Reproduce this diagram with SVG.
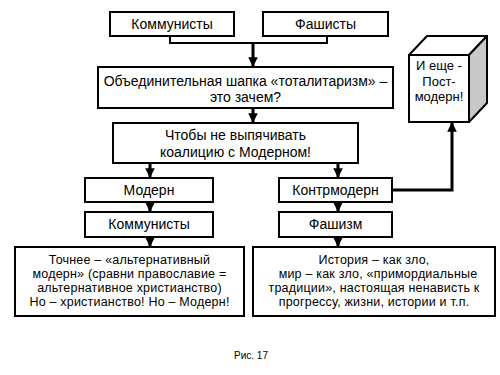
<svg xmlns="http://www.w3.org/2000/svg" width="500" height="375" viewBox="0 0 500 375">
<defs>
<style>
.box{fill:#fff;stroke:#000;stroke-width:2}
.t{font-family:"Liberation Sans",Arial,sans-serif;font-size:14px;fill:#000;text-anchor:middle}
.s{font-size:12.5px;letter-spacing:0.2px}
.k{font-size:13px}
.c{fill:none;stroke:#000;stroke-width:2}
.ct{fill:none;stroke:#000;stroke-width:3}
</style>
<marker id="ah" viewBox="0 0 10 10" refX="9" refY="5" markerWidth="3.2" markerHeight="3.2" orient="auto" markerUnits="strokeWidth">
<path d="M0,0 L10,5 L0,10 z" fill="#000"/>
</marker>
</defs>
<rect width="500" height="375" fill="#fff"/>
<g id="connectors">
<path class="c" d="M170,36 V43 H327 V36"/>
<path class="ct" d="M253,43 V66" marker-end="url(#ah)"/>
<path class="ct" d="M253,108 V122" marker-end="url(#ah)"/>
<path class="ct" d="M150,163 V177" marker-end="url(#ah)"/>
<path class="ct" d="M338,163 V177" marker-end="url(#ah)"/>
<path class="ct" d="M150,202 V211" marker-end="url(#ah)"/>
<path class="ct" d="M338,202 V211" marker-end="url(#ah)"/>
<path class="ct" d="M150,237 V246" marker-end="url(#ah)"/>
<path class="ct" d="M338,237 V246" marker-end="url(#ah)"/>
<path class="ct" d="M392,190 H452 V123" marker-end="url(#ah)"/>
</g>
<g id="n1"><rect class="box" x="110" y="12" width="124" height="24"/><text class="t" x="172" y="29">Коммунисты</text></g>
<g id="n2"><rect class="box" x="263" y="12" width="125" height="24"/><text class="t" x="325.5" y="29">Фашисты</text></g>
<g id="n3"><rect class="box" x="98" y="67" width="295" height="41"/><text class="t" x="245.5" y="86">Объединительная шапка «тоталитаризм» –</text><text class="t" x="245.5" y="102">это зачем?</text></g>
<g id="n4"><rect class="box" x="113" y="123" width="245" height="40"/><text class="t" x="235.5" y="140">Чтобы не выпячивать</text><text class="t" x="235.5" y="157">коалицию с Модерном!</text></g>
<g id="n5"><rect class="box" x="85" y="178" width="128" height="24"/><text class="t" x="149" y="195">Модерн</text></g>
<g id="n6"><rect class="box" x="279" y="178" width="113" height="24"/><text class="t" x="335.5" y="195">Контрмодерн</text></g>
<g id="n7"><rect class="box" x="85" y="212" width="128" height="25"/><text class="t" x="149" y="229">Коммунисты</text></g>
<g id="n8"><rect class="box" x="279" y="212" width="113" height="25"/><text class="t" x="335.5" y="229">Фашизм</text></g>
<g id="n9"><rect class="box" x="15" y="247" width="229" height="69"/>
<text class="t s" x="129.5" y="264">Точнее – «альтернативный</text>
<text class="t s" x="129.5" y="278">модерн» (сравни православие =</text>
<text class="t s" x="129.5" y="292">альтернативное христианство)</text>
<text class="t s" x="129.5" y="306">Но – христианство! Но – Модерн!</text></g>
<g id="n10"><rect class="box" x="253" y="247" width="242" height="69"/>
<text class="t s" x="374" y="264">История – как зло,</text>
<text class="t s" x="378" y="278">мир – как зло, «примордиальные</text>
<text class="t s" x="374" y="292">традиции», настоящая ненависть к</text>
<text class="t s" x="374" y="306">прогрессу, жизни, истории и т.п.</text></g>
<g id="n11">
<path d="M409,55 L427,36 H487 L469,55 z" fill="#fff" stroke="#000" stroke-width="2" stroke-linejoin="round"/>
<path d="M469,55 L487,36 V103 L469,122 z" fill="#c8c8c8" stroke="#000" stroke-width="2" stroke-linejoin="round"/>
<rect class="box" x="409" y="55" width="60" height="67"/>
<text class="t k" x="439" y="70">И еще -</text>
<text class="t k" x="439" y="86">Пост-</text>
<text class="t k" x="439" y="101">модерн!</text>
</g>
<text class="t" x="251" y="359" style="font-size:10px">Рис. 17</text>
</svg>
